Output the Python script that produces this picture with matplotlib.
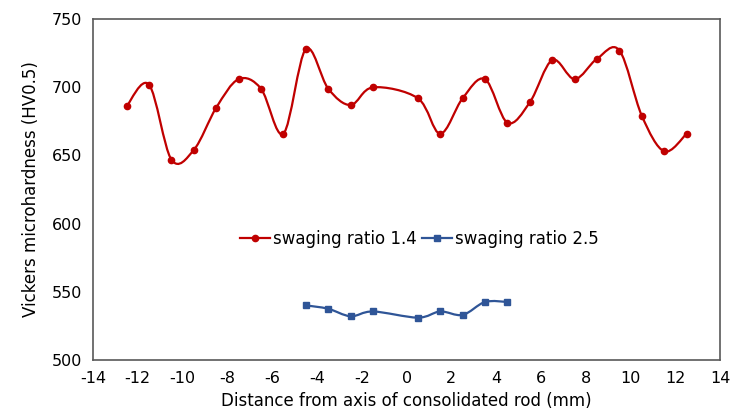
import numpy as np
import matplotlib
matplotlib.use("Agg")
import matplotlib.pyplot as plt
from matplotlib.path import Path
from matplotlib.patches import PathPatch

font = {'size': 11, 'family': 'DejaVu Sans'}
matplotlib.rc('font', **font)
plt.rcParams['axes.unicode_minus'] = False

# data
x14 = [-12.5, -11.5, -10.5, -9.5, -8.5, -7.5, -6.5, -5.5, -4.5, -3.5, -2.5, -1.5,
       0.5, 1.5, 2.5, 3.5, 4.5, 5.5, 6.5, 7.5, 8.5, 9.5, 10.5, 11.5, 12.5]
hv14 = [686, 702, 647, 654, 685, 706, 699, 666, 728, 699, 687, 700,
        692, 666, 692, 706, 674, 689, 720, 706, 721, 727, 679, 653, 666]

x25 = [-4.5, -3.5, -2.5, -1.5, 0.5, 1.5, 2.5, 3.5, 4.5]
hv25 = [540, 537.5, 532, 535.5, 531, 535.5, 533, 542.5, 542.5]

red = '#C00000'
blue = '#2F5597'


def smooth_path(xs, ys, t=1/6):
    # excel-like smoothed line: cubic bezier through every point
    xs = np.asarray(xs, float)
    ys = np.asarray(ys, float)
    n = len(xs)
    verts = [(xs[0], ys[0])]
    codes = [Path.MOVETO]
    for i in range(n - 1):
        p0 = np.array([xs[max(i - 1, 0)], ys[max(i - 1, 0)]])
        p1 = np.array([xs[i], ys[i]])
        p2 = np.array([xs[i + 1], ys[i + 1]])
        p3 = np.array([xs[min(i + 2, n - 1)], ys[min(i + 2, n - 1)]])
        c1 = p1 + (p2 - p0) * t
        c2 = p2 - (p3 - p1) * t
        verts += [tuple(c1), tuple(c2), tuple(p2)]
        codes += [Path.CURVE4] * 3
    return Path(verts, codes)


fig = plt.figure(figsize=(7.32, 4.17), dpi=100)
ax = fig.add_axes([0.127, 0.137, 0.857, 0.817])

ax.add_patch(PathPatch(smooth_path(x14, hv14), facecolor='none', edgecolor=red, lw=1.6))
ax.add_patch(PathPatch(smooth_path(x25, hv25), facecolor='none', edgecolor=blue, lw=1.6))
ax.plot(x14, hv14, 'o', color=red, ms=4.5)
ax.plot(x25, hv25, 's', color=blue, ms=4.5)

# legend handles with line through marker
h1, = ax.plot([], [], '-o', color=red, ms=4.5, lw=1.6)
h2, = ax.plot([], [], '-s', color=blue, ms=4.5, lw=1.6)
ax.legend([h1, h2], ['swaging ratio 1.4', 'swaging ratio 2.5'], ncol=2,
          loc='center', bbox_to_anchor=(0.52, 0.355), frameon=False,
          fontsize=12, handlelength=1.8, handletextpad=0.2, columnspacing=0.3)

ax.set_xlim(-14, 14)
ax.set_ylim(500, 750)
ax.set_xticks(range(-14, 15, 2))
ax.set_yticks(range(500, 751, 50))
ax.tick_params(length=0, labelsize=11.5, pad=8)
for s in ax.spines.values():
    s.set_color('#595959')
    s.set_linewidth(1.2)

ax.set_xlabel('Distance from axis of consolidated rod (mm)', fontsize=12, labelpad=4)
ax.set_ylabel('Vickers microhardness (HV0.5)', fontsize=12, labelpad=8)

fig.savefig('out.png', dpi=100)
